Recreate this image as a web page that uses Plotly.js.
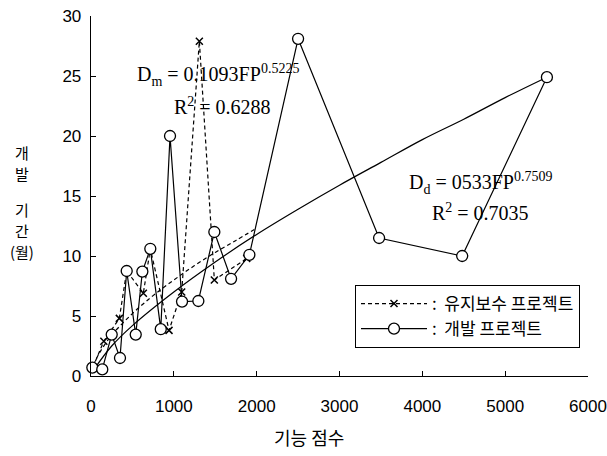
<!DOCTYPE html>
<html>
<head>
<meta charset="utf-8">
<script src="https://cdn.plot.ly/plotly-3.0.1.min.js"></script>
<style>html,body{margin:0;padding:0;background:#fff;}#chart{width:607px;height:456px;}</style>
</head>
<body>
<div id="chart"></div>
<script>
// 개발 프로젝트 (development projects)
const devFP   = [16, 136, 250, 350, 431, 540, 620, 716, 842, 954, 1099, 1296, 1489, 1691, 1912, 2500, 3478, 4481, 5504];
const devMon  = [0.7, 0.55, 3.45, 1.5, 8.75, 3.45, 8.7, 10.6, 3.9, 20.0, 6.2, 6.25, 12.0, 8.1, 10.1, 28.1, 11.5, 10.0, 24.9];
// 유지보수 프로젝트 (maintenance projects)
const mntFP   = [20, 155, 342, 431, 632, 716, 942, 1095, 1308, 1489, 1880];
const mntMon  = [0.7, 2.9, 4.8, 8.75, 6.9, 10.6, 3.8, 7.0, 27.9, 8.0, 9.8];
// trend curves
const devFitFP  = [30, 250, 500, 1000, 1500, 2000, 2500, 3000, 3500, 4000, 4500, 5000, 5504];
const devFitMon = [0.5, 2.5, 4.2, 7.0, 9.5, 11.8, 13.9, 15.9, 17.8, 19.7, 21.4, 23.2, 24.9];
const mntFitFP  = [30, 100, 250, 500, 750, 1000, 1250, 1500, 1750, 1972];
const mntFitMon = [0.9, 1.9, 3.4, 5.2, 6.7, 8.0, 9.2, 10.3, 11.3, 12.2];

const xTicks = [0, 1000, 2000, 3000, 4000, 5000, 6000];
const yTicks = [0, 5, 10, 15, 20, 25, 30];
const legendNames = [':  유지보수 프로젝트', ':  개발 프로젝트'];
const xTitle = '기능 점수';
const yTitleLines = ['개', '발', '기', '간', '(월)'];
const yTitleRows  = [152, 173, 209, 230, 251];

const traces = [
  {x: devFitFP, y: devFitMon, mode: 'lines', line: {color: '#000', width: 1.2, shape: 'spline'}, showlegend: false, hoverinfo: 'skip'},
  {x: mntFitFP, y: mntFitMon, mode: 'lines', line: {color: '#000', width: 1.2, dash: '4px,3px', shape: 'spline'}, showlegend: false, hoverinfo: 'skip'},
  {x: mntFP, y: mntMon, name: legendNames[0], mode: 'lines+markers', cliponaxis: false,
   line: {color: '#000', width: 1.2, dash: '4px,3px'},
   marker: {symbol: 'x-thin-open', size: 7, color: '#000', line: {color: '#000', width: 1.5}}},
  {x: devFP, y: devMon, name: legendNames[1], mode: 'lines+markers', cliponaxis: false,
   line: {color: '#000', width: 1.2},
   marker: {symbol: 'circle', size: 11, color: '#fff', line: {color: '#000', width: 1.3}}}
];

const L = 91, W = 497, T = 16, H = 360;
const px = v => (v - L) / W;
const py = v => (T + H - v) / H;
const serif = {family: 'Liberation Serif, Times New Roman, serif', size: 20, color: '#000'};
const kor = size => ({family: 'Noto Sans CJK KR, sans-serif', size, color: '#000'});
const ann = (text, x, y, font) => ({text, xref: 'paper', yref: 'paper', x: px(x), y: py(y),
  xanchor: 'center', yanchor: 'middle', showarrow: false, font});

const annotations = [
  ann('D<sub>m</sub> = 0.1093FP<sup>0.5225</sup>', 218, 75, serif),
  ann('R<sup>2</sup> = 0.6288', 222, 106, serif),
  ann('D<sub>d</sub> = 0533FP<sup>0.7509</sup>', 480, 183, serif),
  ann('R<sup>2</sup> = 0.7035', 480, 212, serif),
  ann(xTitle, 309, 437, kor(18))
];
yTitleLines.forEach((t, i) => annotations.push(ann(t, 22, yTitleRows[i], kor(15))));

const layout = {
  width: 607, height: 456,
  margin: {l: L, r: 607 - L - W, t: T, b: 456 - T - H},
  paper_bgcolor: '#fff', plot_bgcolor: '#fff',
  font: {family: 'Liberation Sans, Arial, sans-serif', color: '#000'},
  showlegend: true,
  legend: {x: px(355), y: py(285), xanchor: 'left', yanchor: 'top', bgcolor: '#fff',
           bordercolor: '#000', borderwidth: 1, itemwidth: 66,
           font: kor(17)},
  xaxis: {range: [0, 6000], tickvals: xTicks, ticktext: xTicks.map(String), ticks: 'inside', ticklen: 5,
          tickcolor: '#000', showline: true, linecolor: '#000', linewidth: 1.3, showgrid: false, zeroline: false,
          ticklabelstandoff: 14, tickfont: {family: 'Liberation Sans, Arial, sans-serif', size: 17, color: '#000'}},
  yaxis: {range: [0, 30], tickvals: yTicks, ticktext: yTicks.map(String), ticks: 'inside', ticklen: 5,
          tickcolor: '#000', showline: true, linecolor: '#000', linewidth: 1.3, showgrid: false, zeroline: false,
          ticklabelstandoff: 5, tickfont: {family: 'Liberation Sans, Arial, sans-serif', size: 17, color: '#000'}},
  annotations
};
Plotly.newPlot('chart', traces, layout, {staticPlot: true, displayModeBar: false});
</script>
</body>
</html>
